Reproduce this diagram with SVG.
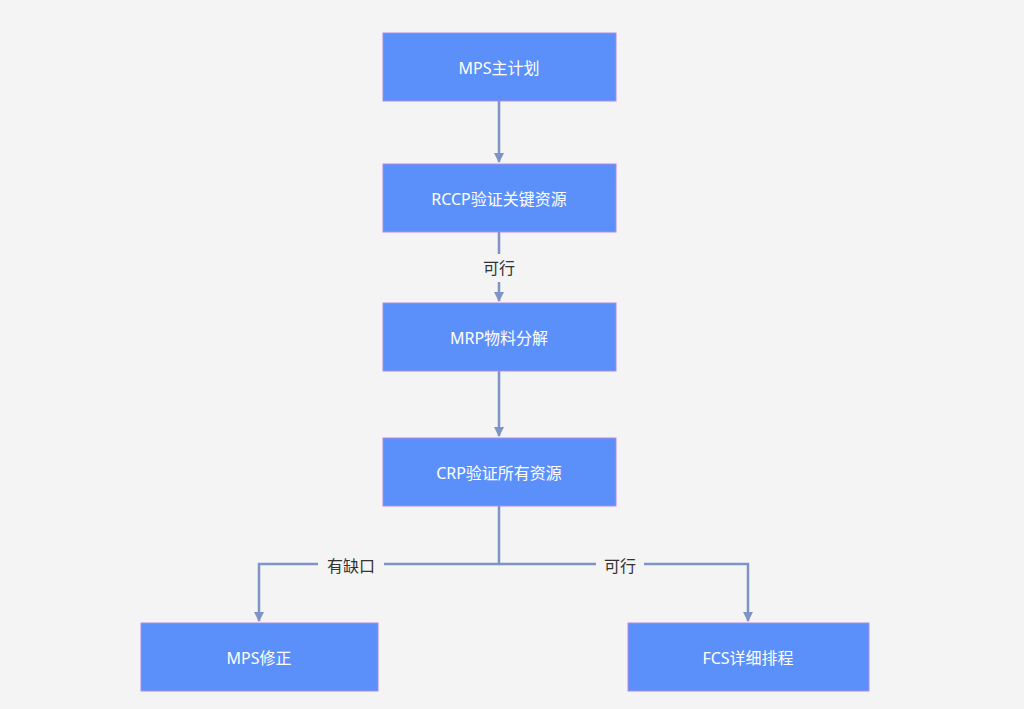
<svg xmlns="http://www.w3.org/2000/svg" width="1024" height="709" viewBox="0 0 1024 709">
<style>
.n rect{fill:#5b8ff9;stroke:#b388e8;stroke-width:1}
.n text{fill:#fff;font-family:"Noto Sans","Noto Sans CJK SC",sans-serif;font-size:16px;text-anchor:middle;dominant-baseline:central}
.c path{fill:none;stroke:#7e93c6;stroke-width:2.5}
.lbl{fill:#333;font-family:"Noto Sans","Noto Sans CJK SC",sans-serif;font-size:16px;text-anchor:middle;dominant-baseline:central}
</style>
<defs><marker id="a" viewBox="0 0 10 10" refX="9" refY="5" markerWidth="7" markerHeight="7" markerUnits="userSpaceOnUse" orient="auto"><path d="M0,0L10,5L0,10z" fill="#7e93c6"/></marker>
<marker id="b" viewBox="0 0 10 10" refX="9" refY="5" markerWidth="4" markerHeight="6" orient="auto"><path d="M0,0L10,5L0,10z" fill="#7e93c6"/></marker></defs>
<rect width="1024" height="709" fill="#f4f4f4"/>
<g class="c">
<path d="M499,101V162" marker-end="url(#b)"/>
<path d="M499,232V301" marker-end="url(#b)"/>
<path d="M499,371V436" marker-end="url(#b)"/>
<path d="M499,506V564H259V621" marker-end="url(#b)"/>
<path d="M499,564H748V621" marker-end="url(#b)"/>
</g>
<rect x="474" y="254" width="50" height="28" fill="#f4f4f4"/>
<text class="lbl" x="499" y="268">可行</text>
<rect x="318" y="552" width="66" height="26" fill="#f4f4f4"/>
<text class="lbl" x="351" y="566">有缺口</text>
<rect x="596" y="552" width="48" height="26" fill="#f4f4f4"/>
<text class="lbl" x="620" y="566">可行</text>
<g id="n1" class="n"><rect x="383" y="33" width="233" height="68"/><text x="499" y="68">MPS主计划</text></g>
<g id="n2" class="n"><rect x="383" y="164" width="233" height="68"/><text x="499" y="199">RCCP验证关键资源</text></g>
<g id="n3" class="n"><rect x="383" y="303" width="233" height="68"/><text x="499" y="338">MRP物料分解</text></g>
<g id="n4" class="n"><rect x="383" y="438" width="233" height="68"/><text x="499" y="473">CRP验证所有资源</text></g>
<g id="n5" class="n"><rect x="141" y="623" width="237" height="68"/><text x="259" y="658">MPS修正</text></g>
<g id="n6" class="n"><rect x="628" y="623" width="241" height="68"/><text x="748" y="658">FCS详细排程</text></g>
</svg>
